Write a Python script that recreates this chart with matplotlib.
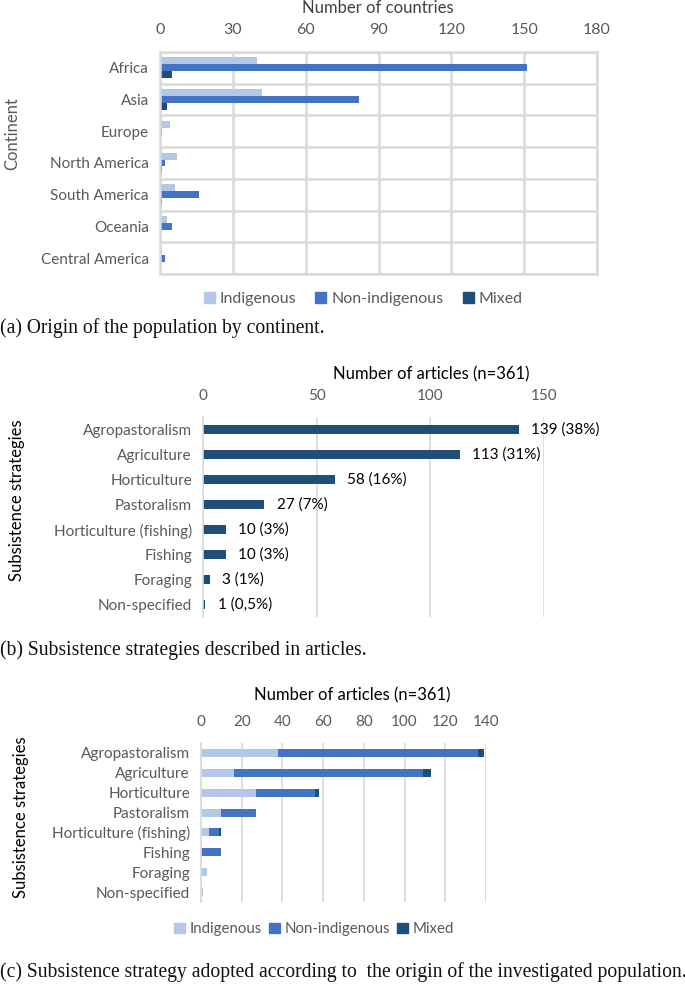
import matplotlib
matplotlib.use("Agg")
import matplotlib.pyplot as plt
import numpy as np
from matplotlib.patches import Patch

# (a) origin of the population by continent
continents = ["Africa", "Asia", "Europe", "North America", "South America",
              "Oceania", "Central America"]
cont_indigenous = [40, 42, 4, 7, 6, 3, 1]
cont_non_indigenous = [151, 82, 1, 2, 16, 5, 2]
cont_mixed = [5, 3, 0, 1, 1, 0, 0]

# (b) subsistence strategies
strategies = ["Agropastoralism", "Agriculture", "Horticulture", "Pastoralism",
              "Horticulture (fishing)", "Fishing", "Foraging", "Non-specified"]
strategy_totals = [139, 113, 58, 27, 10, 10, 3, 1]
strategy_pct = ["38%", "31%", "16%", "7%", "3%", "3%", "1%", "0,5%"]

# (c) strategy by origin
strat_indigenous = [38, 16, 27, 10, 4, 0, 3, 1]
strat_non_indigenous = [98, 93, 29, 17, 5, 10, 0, 0]
strat_mixed = [3, 4, 2, 0, 1, 0, 0, 0]

C_IND = "#B4C7E7"
C_NON = "#4472C4"
C_MIX = "#1F4E79"
GRID = "#D9D9D9"
TICK = "#595959"
CAPTION_FONT = dict(fontsize=14.1, family="Liberation Serif", color="#111111")

plt.rcParams["font.family"] = ["Lato", "DejaVu Sans"]

W, H = 685, 985
fig = plt.figure(figsize=(W / 100, H / 100), dpi=100)


def px_axes(left, right, top, bottom):
    """Axes placed by pixel edges (y measured from the top)."""
    return fig.add_axes([left / W, 1 - bottom / H, (right - left) / W, (bottom - top) / H])


def style_axes(ax):
    ax.xaxis.tick_top()
    ax.tick_params(axis="both", length=0, labelsize=11, labelcolor=TICK)
    ax.tick_params(axis="x", pad=10)
    ax.tick_params(axis="y", pad=8)
    ax.set_axisbelow(True)


def origin_legend(center_x, center_y, size, spacing):
    fig.legend(handles=[Patch(color=C_IND, label="Indigenous"),
                        Patch(color=C_NON, label="Non-indigenous"),
                        Patch(color=C_MIX, label="Mixed")],
               loc="center", bbox_to_anchor=(center_x / W, 1 - center_y / H), ncol=3,
               frameon=False, fontsize=size, labelcolor=TICK, handlelength=0.7,
               handleheight=0.7, handletextpad=0.3, columnspacing=spacing)


# ---------------- (a) ----------------
ax1 = px_axes(160, 597, 52, 274)
y = np.arange(len(continents))
bh = 0.22
ax1.barh(y - bh, cont_indigenous, height=bh, color=C_IND)
ax1.barh(y, cont_non_indigenous, height=bh, color=C_NON)
ax1.barh(y + bh, cont_mixed, height=bh, color=C_MIX)
ax1.set_xlim(0, 180)
ax1.set_xticks(range(0, 181, 30))
ax1.set_ylim(len(continents) - 0.5, -0.5)
ax1.set_yticks(y)
ax1.set_yticklabels(continents)
style_axes(ax1)
ax1.tick_params(axis="x", labelsize=11.5, pad=11)
ax1.set_yticks(np.arange(-0.5, len(continents), 1), minor=True)
ax1.tick_params(axis="y", which="minor", length=0)
ax1.grid(axis="x", color=GRID, linewidth=1.8)
ax1.grid(axis="y", which="minor", color=GRID, linewidth=1.8)
for s in ax1.spines.values():
    s.set_color(GRID)
    s.set_linewidth(1.8)
fig.text(378 / W, 1 - 8 / H, "Number of countries", ha="center", va="center",
         fontsize=12, color="#404040")
fig.text(12 / W, 1 - 134 / H, "Continent", ha="center", va="center",
         rotation=90, fontsize=12, color="#595959")
origin_legend(363, 299, 11.5, 1.2)
fig.text(0, 1 - 328 / H, "(a) Origin of the population by continent.",
         ha="left", va="center", **CAPTION_FONT)

# ---------------- (b) ----------------
ax2 = px_axes(203, 544, 417, 617)
y2 = np.arange(len(strategies))
bars = ax2.barh(y2, strategy_totals, height=0.34, color=C_MIX)
ax2.set_xlim(0, 150)
ax2.set_xticks([0, 50, 100, 150])
ax2.set_ylim(len(strategies) - 0.5, -0.5)
ax2.set_yticks(y2)
ax2.set_yticklabels(strategies)
style_axes(ax2)
ax2.grid(axis="x", color=GRID, linewidth=1.2)
for name, s in ax2.spines.items():
    s.set_visible(name == "left")
ax2.spines["left"].set_color(GRID)
ax2.spines["left"].set_linewidth(1.2)
for bar, v, p in zip(bars, strategy_totals, strategy_pct):
    ax2.annotate(f"{v} ({p})", (bar.get_width(), bar.get_y() + bar.get_height() / 2),
                 xytext=(9, 0), textcoords="offset points", va="center", ha="left",
                 fontsize=11, color="#000000", annotation_clip=False)
fig.text(431 / W, 1 - 374 / H, "Number of articles (n=361)", ha="center", va="center",
         fontsize=12, color="#000000")
fig.text(17 / W, 1 - 500 / H, "Subsistence strategies", ha="center", va="center",
         rotation=90, fontsize=12, color="#000000")
fig.text(0, 1 - 650 / H, "(b) Subsistence strategies described in articles.",
         ha="left", va="center", **CAPTION_FONT)

# ---------------- (c) ----------------
ax3 = px_axes(201, 486, 743, 902)
ind = np.array(strat_indigenous)
non = np.array(strat_non_indigenous)
mix = np.array(strat_mixed)
ax3.barh(y2, ind, height=0.4, color=C_IND)
ax3.barh(y2, non, left=ind, height=0.4, color=C_NON)
ax3.barh(y2, mix, left=ind + non, height=0.4, color=C_MIX)
ax3.set_xlim(0, 140)
ax3.set_xticks(range(0, 141, 20))
ax3.set_ylim(len(strategies) - 0.5, -0.5)
ax3.set_yticks(y2)
ax3.set_yticklabels(strategies)
style_axes(ax3)
ax3.grid(axis="x", color=GRID, linewidth=1.2)
for name, s in ax3.spines.items():
    s.set_visible(name == "left")
ax3.spines["left"].set_color(GRID)
ax3.spines["left"].set_linewidth(1.2)
fig.text(352 / W, 1 - 695 / H, "Number of articles (n=361)", ha="center", va="center",
         fontsize=12, color="#000000")
fig.text(21 / W, 1 - 817 / H, "Subsistence strategies", ha="center", va="center",
         rotation=90, fontsize=12, color="#000000")
origin_legend(314, 929, 10.8, 0.5)
fig.text(0, 1 - 972 / H,
         "(c) Subsistence strategy adopted according to  the origin of the investigated population.",
         ha="left", va="center", **CAPTION_FONT)

fig.savefig("out.png", dpi=100)
